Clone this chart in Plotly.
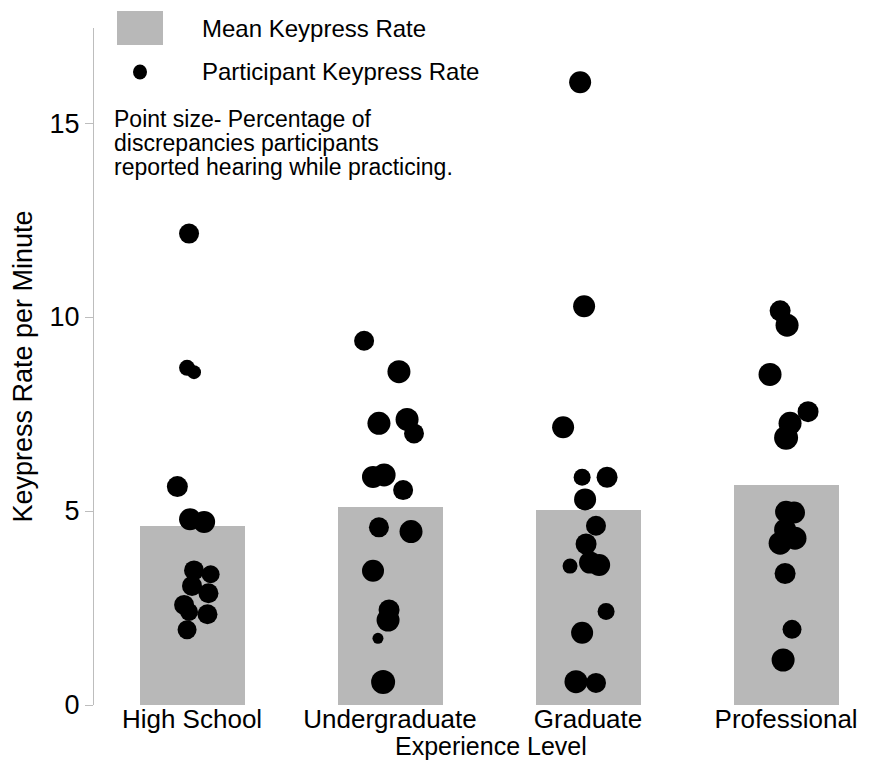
import plotly.graph_objects as go

categories = ["High School", "Undergraduate", "Graduate", "Professional"]
mean_rate = [4.61, 5.10, 5.03, 5.67]

# participant keypress rates per group, horizontal jitter (category units), point size
hs_rate = [12.15, 8.69, 8.58, 5.63, 4.79, 4.72, 3.47, 3.37, 3.07, 2.88, 2.58, 2.40, 2.34, 1.94]
hs_jit = [-0.015, -0.025, 0.01, -0.074, -0.01, 0.061, 0.01, 0.094, 0.0, 0.083, -0.04, -0.015, 0.078, -0.025]
hs_size = [20, 16, 14, 21, 22, 22, 20, 18, 20, 20, 20, 18, 20, 19]

ug_rate = [9.39, 8.59, 7.26, 7.36, 7.00, 5.88, 5.93, 5.54, 4.58, 4.47, 3.46, 2.45, 2.19, 1.72, 0.59]
ug_jit = [-0.131, 0.045, -0.056, 0.086, 0.121, -0.086, -0.03, 0.066, -0.056, 0.106, -0.086, -0.005, -0.01, -0.061, -0.035]
ug_size = [20, 23, 23, 23, 20, 22, 23, 20, 20, 23, 22, 21, 23, 11, 24]

gr_rate = [16.05, 10.28, 7.16, 5.87, 5.87, 5.30, 4.62, 4.15, 3.58, 3.67, 3.61, 2.41, 1.86, 0.60, 0.57]
gr_jit = [-0.04, -0.02, -0.126, -0.03, 0.096, -0.015, 0.04, -0.01, -0.091, 0.01, 0.056, 0.091, -0.03, -0.061, 0.04]
gr_size = [22, 22, 22, 17, 21, 22, 20, 21, 15, 22, 22, 17, 22, 23, 20]

pr_rate = [10.16, 9.79, 8.52, 7.56, 7.26, 6.89, 4.98, 4.96, 4.52, 4.30, 4.17, 3.39, 1.95, 1.16]
pr_jit = [-0.03, 0.005, -0.081, 0.111, 0.02, 0.0, 0.0, 0.04, -0.005, 0.045, -0.03, -0.005, 0.03, -0.015]
pr_size = [21, 23, 23, 21, 23, 24, 22, 22, 22, 23, 23, 21, 19, 23]

groups = [(hs_rate, hs_jit, hs_size), (ug_rate, ug_jit, ug_size),
          (gr_rate, gr_jit, gr_size), (pr_rate, pr_jit, pr_size)]

note_lines = ["Point size- Percentage of", "discrepancies participants",
              "reported hearing while practicing."]

FONT = "Liberation Sans, Arial, sans-serif"
BAR = "#b8b8b8"

fig = go.Figure()
fig.add_trace(go.Bar(x=list(range(len(categories))), y=mean_rate, width=0.53,
                     marker=dict(color=BAR, line=dict(width=0)), showlegend=False,
                     name="Mean Keypress Rate"))
for i, (rate, jit, size) in enumerate(groups):
    fig.add_trace(go.Scatter(x=[i + j for j in jit], y=rate, mode="markers",
                             marker=dict(color="black", size=size, sizemode="diameter",
                                         opacity=1, line=dict(width=0)),
                             showlegend=False, name="Participant Keypress Rate"))

# page body has an 8px margin: figure is drawn at (8, 8)
OFF = 8
W, H = 874 - OFF, 761 - OFF
PL, PR, PT, PB = 94, 874, 28, 705          # plot area in page pixels
L, R, T, B = PL - OFF, 874 - PR, PT - OFF, 761 - PB
pw, ph = PR - PL, PB - PT

def px(x):
    return (x - PL) / pw

def py(y):
    return (PB - y) / ph

shapes = [
    dict(type="rect", xref="paper", yref="paper", x0=px(117), x1=px(163), y0=py(45), y1=py(11),
         fillcolor=BAR, line=dict(width=0)),
    dict(type="circle", xref="paper", yref="paper", x0=px(133), x1=px(147), y0=py(79.5), y1=py(64.5),
         fillcolor="black", line=dict(width=0)),
]
annotations = [
    dict(xref="paper", yref="paper", x=px(200), y=py(28), text="Mean Keypress Rate", showarrow=False,
         xanchor="left", yanchor="middle", font=dict(family=FONT, size=24, color="black")),
    dict(xref="paper", yref="paper", x=px(200), y=py(72), text="Participant Keypress Rate", showarrow=False,
         xanchor="left", yanchor="middle", font=dict(family=FONT, size=24, color="black")),
    dict(xref="paper", yref="paper", x=px(491), y=py(746), text="Experience Level", showarrow=False,
         xanchor="center", yanchor="middle", borderpad=0,
         font=dict(family=FONT, size=25, color="black")),
]
for k, line in enumerate(note_lines):
    annotations.append(dict(xref="paper", yref="paper", x=px(112), y=py(119 + 24 * k), text=line,
                            showarrow=False, xanchor="left", yanchor="middle",
                            font=dict(family=FONT, size=23, color="black")))

fig.update_layout(
    width=W, height=H,
    margin=dict(l=L, r=R, t=T, b=B, pad=0),
    paper_bgcolor="white", plot_bgcolor="white",
    font=dict(family=FONT, size=27, color="black"),
    bargap=0,
    shapes=shapes, annotations=annotations,
    xaxis=dict(range=[-0.495, 3.444], tickvals=list(range(len(categories))), ticktext=categories,
               showgrid=False, zeroline=False, showline=False, ticks="",
               ticklabelstandoff=-4, tickfont=dict(size=26)),
    yaxis=dict(range=[0, 17.45], tickvals=[0, 5, 10, 15], showgrid=False, zeroline=False,
               showline=True, linecolor="#bdbdbd", linewidth=1, ticks="outside", ticklen=8,
               tickcolor="#bdbdbd", tickfont=dict(size=27),
               title=dict(text="Keypress Rate per Minute", standoff=12, font=dict(size=27))),
)

fig.write_html("out.html")
